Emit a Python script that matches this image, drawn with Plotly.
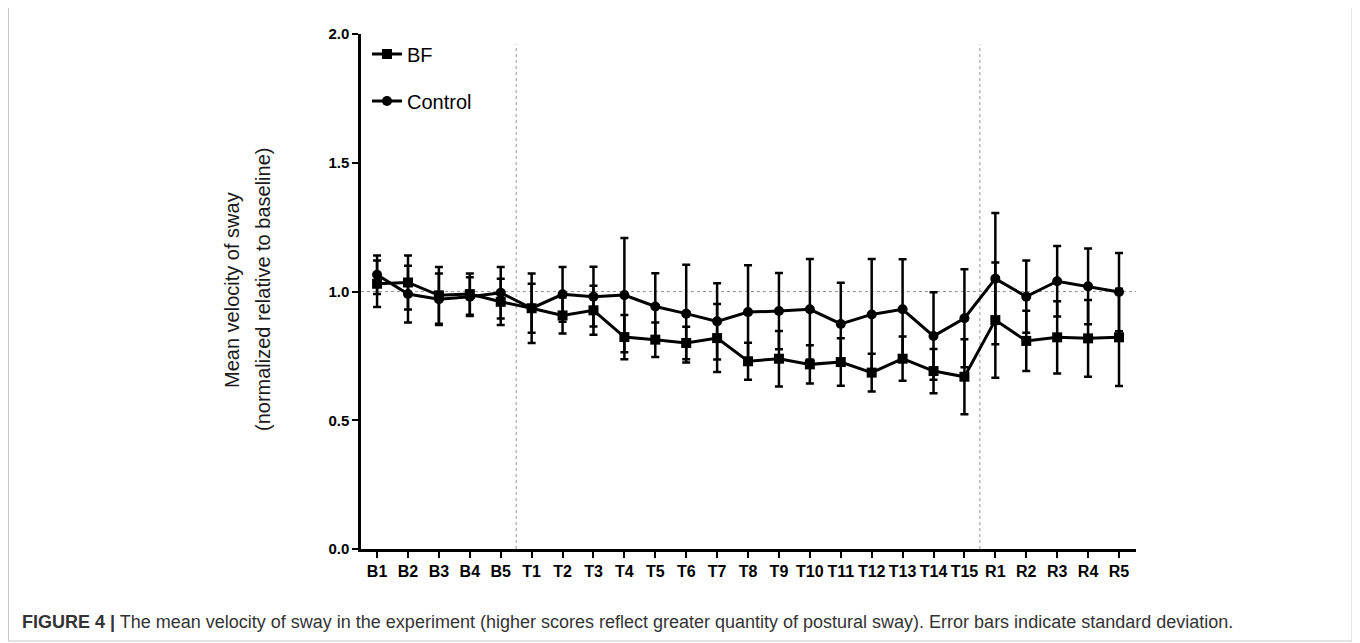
import plotly.graph_objects as go

categories = ["B1", "B2", "B3", "B4", "B5",
              "T1", "T2", "T3", "T4", "T5", "T6", "T7", "T8", "T9", "T10",
              "T11", "T12", "T13", "T14", "T15",
              "R1", "R2", "R3", "R4", "R5"]

bf_mean = [1.030, 1.035, 0.985, 0.990, 0.960,
           0.935, 0.907, 0.927, 0.823, 0.813, 0.800, 0.819, 0.729, 0.739, 0.717,
           0.726, 0.685, 0.739, 0.691, 0.669,
           0.889, 0.808, 0.822, 0.818, 0.822]
bf_sd = [0.090, 0.105, 0.110, 0.080, 0.090,
         0.095, 0.070, 0.095, 0.086, 0.067, 0.063, 0.132, 0.072, 0.108, 0.074,
         0.092, 0.073, 0.086, 0.086, 0.146,
         0.224, 0.117, 0.140, 0.149, 0.189]

ctrl_mean = [1.065, 0.990, 0.970, 0.980, 0.995,
             0.935, 0.989, 0.980, 0.986, 0.942, 0.914, 0.884, 0.920, 0.924, 0.931,
             0.874, 0.911, 0.931, 0.827, 0.896,
             1.050, 0.980, 1.040, 1.020, 0.998]
ctrl_sd = [0.075, 0.110, 0.100, 0.075, 0.100,
           0.135, 0.106, 0.116, 0.222, 0.129, 0.190, 0.148, 0.182, 0.148, 0.195,
           0.160, 0.215, 0.194, 0.170, 0.190,
           0.255, 0.140, 0.137, 0.147, 0.152]

y_ticks = [0.0, 0.5, 1.0, 1.5, 2.0]
phase_bounds = [4.5, 19.5]
baseline = 1.0

FONT = "Liberation Sans, Arial, sans-serif"

# The page body has an 8px margin, so the figure is drawn 8px right/down.
OFF = 8
# target plot-area geometry in page pixels
PL, PR, PT, PB = 361, 1136, 34, 549
W, H = 1360 - OFF, 643 - OFF
L, R, T, B = PL - OFF, PR - OFF, PT - OFF, PB - OFF

def px(x):  # page x -> paper
    return (x - PL) / (PR - PL)
def py(y):  # page y -> paper
    return (PB - y) / (PB - PT)

fig = go.Figure()

fig.add_trace(go.Scatter(
    x=categories, y=bf_mean, name="BF", mode="lines+markers",
    line=dict(color="black", width=3),
    marker=dict(symbol="square", size=10, color="black"),
    error_y=dict(type="data", array=bf_sd, visible=True,
                 color="black", thickness=2.5, width=4),
    legend="legend",
))
fig.add_trace(go.Scatter(
    x=categories, y=ctrl_mean, name="Control", mode="lines+markers",
    line=dict(color="black", width=3),
    marker=dict(symbol="circle", size=10, color="black"),
    error_y=dict(type="data", array=ctrl_sd, visible=True,
                 color="black", thickness=2.5, width=4),
    legend="legend2",
))

shapes = []
for xb in phase_bounds:
    shapes.append(dict(type="line", xref="x", yref="y", x0=xb, x1=xb,
                       y0=0, y1=1.96, line=dict(color="#999999", width=1, dash="dot"),
                       layer="below"))
shapes.append(dict(type="line", xref="paper", yref="y", x0=0, x1=1,
                   y0=baseline, y1=baseline,
                   line=dict(color="#999999", width=1, dash="dot"), layer="below"))
# outer figure frame
shapes.append(dict(type="rect", xref="paper", yref="paper",
                   x0=px(8.5), x1=px(1352), y0=py(641), y1=py(-3),
                   line=dict(color="#c8c8c8", width=1), layer="below"))

annotations = [
    dict(text="Mean velocity of sway", xref="paper", yref="paper",
         x=px(232), y=py(290), xanchor="center", yanchor="middle",
         textangle=-90, showarrow=False,
         font=dict(family=FONT, size=20, color="#1a1a1a")),
    dict(text="(normalized relative to baseline)", xref="paper", yref="paper",
         x=px(263), y=py(290), xanchor="center", yanchor="middle",
         textangle=-90, showarrow=False,
         font=dict(family=FONT, size=20, color="#1a1a1a")),
    dict(text="<b>FIGURE 4 |</b> The mean velocity of sway in the experiment (higher scores reflect greater quantity of postural sway). Error bars indicate standard deviation.",
         xref="paper", yref="paper", x=px(20), y=py(622),
         xanchor="left", yanchor="middle", showarrow=False,
         font=dict(family=FONT, size=18, color="#333333")),
]

legend_style = dict(xanchor="left", yanchor="middle",
                    font=dict(family=FONT, size=20, color="black"),
                    bgcolor="rgba(0,0,0,0)", itemwidth=30)

fig.update_layout(
    width=W, height=H,
    margin=dict(l=L, r=W - R, t=T, b=H - B, pad=0),
    paper_bgcolor="white", plot_bgcolor="white",
    font=dict(family=FONT, color="black"),
    showlegend=True,
    legend=dict(x=px(367), y=py(54), **legend_style),
    legend2=dict(x=px(367), y=py(101), **legend_style),
    shapes=shapes,
    annotations=annotations,
    xaxis=dict(
        type="category", range=[-0.52, 24.55],
        showgrid=False, zeroline=False,
        showline=True, linecolor="black", linewidth=2.5,
        ticks="outside", ticklen=6, tickwidth=2, tickcolor="black",
        tickfont=dict(family=FONT, size=16, color="black", weight="bold"),
    ),
    yaxis=dict(
        range=[0, 2], tickvals=y_ticks, tickformat=".1f",
        showgrid=False, zeroline=False,
        showline=True, linecolor="black", linewidth=2.5,
        ticks="outside", ticklen=6, tickwidth=2, tickcolor="black",
        tickfont=dict(family=FONT, size=15, color="black", weight="bold"),
    ),
)

fig.write_html("out.html")
